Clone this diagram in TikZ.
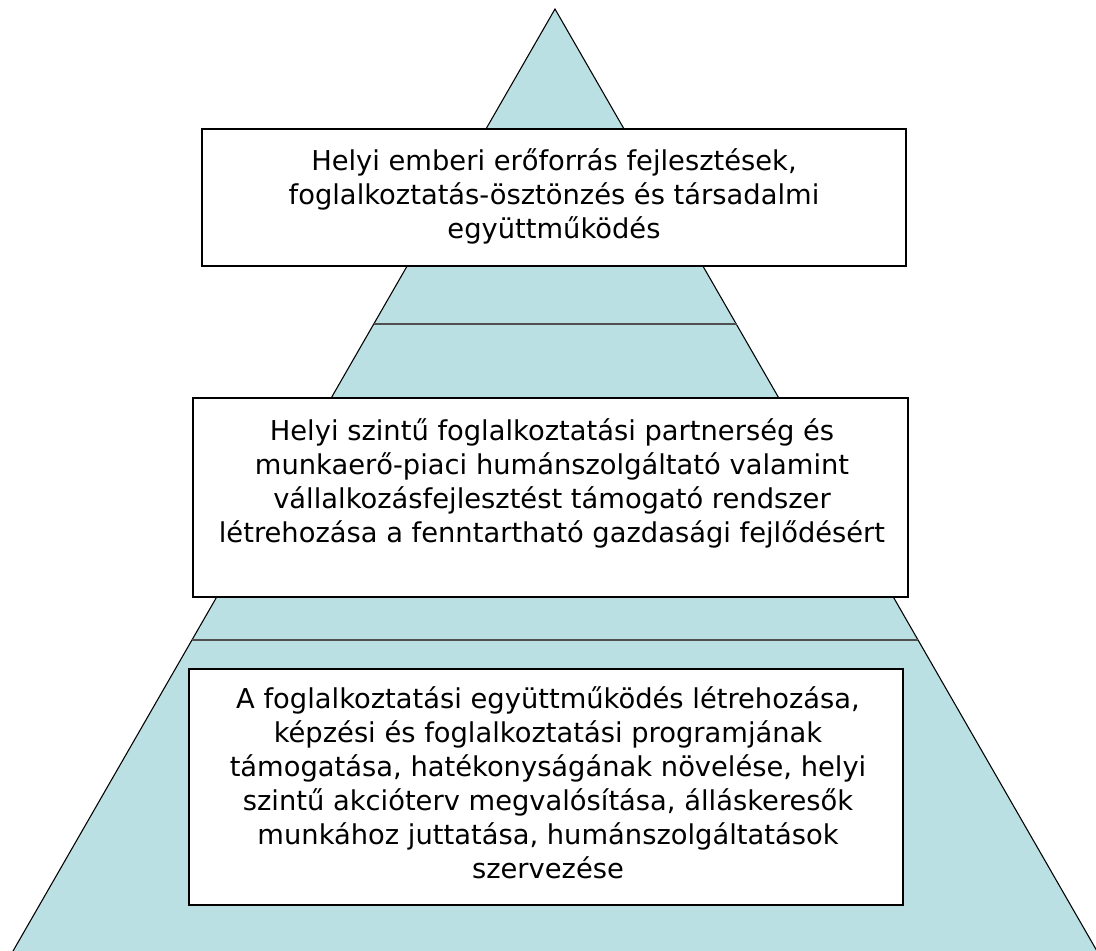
\documentclass[tikz,border=0pt]{standalone}
\usepackage{fontspec}
\setmainfont{DejaVu Sans}
\usepackage{xcolor}
\definecolor{pyrfill}{RGB}{187,224,227}
\definecolor{sepline}{RGB}{80,80,80}
\usetikzlibrary{positioning}

\tikzset{
    levelbox/.style = {draw = black, fill = white, line width = 1.5pt, inner sep = 0pt},
    leveltext/.style = {align = center, inner sep = 0pt,
        font = \fontsize{20.5}{25.5}\selectfont},
}

\begin{document}
\begin{tikzpicture}[x = 0.75pt, y = -0.75pt]
        \useasboundingbox (0, 0) rectangle (1096, 950);

        % the pyramid
        \coordinate (apex) at (555, 9);
        \coordinate (baseL) at (9, 958);
        \coordinate (baseR) at (1101, 958);
        \fill[pyrfill] (apex) -- (baseL) -- (baseR) -- cycle;
        \draw[line width = 0.8pt] (baseL) -- (apex) -- (baseR);

        % layer separators
        \coordinate (sepA1) at (374, 324);
        \coordinate (sepA2) at (737, 324);
        \coordinate (sepB1) at (192, 640);
        \coordinate (sepB2) at (918, 640);
        \draw[sepline, line width = 1.5pt] (sepA1) -- (sepA2);
        \draw[sepline, line width = 1.5pt] (sepB1) -- (sepB2);

        % boxes
        \node[levelbox, minimum width = 704*0.75pt, minimum height = 137*0.75pt]
            (top) at (554, 197.5) {};
        \node[levelbox, minimum width = 715*0.75pt, minimum height = 199*0.75pt]
            (mid) at (550.5, 497.5) {};
        \node[levelbox, minimum width = 714*0.75pt, minimum height = 236*0.75pt]
            (low) at (546, 787) {};

        \node[leveltext] (toptext) at (554, 196)
            {Helyi emberi erőforrás fejlesztések,\\
             foglalkoztatás-ösztönzés és társadalmi\\
             együttműködés};
        \node[leveltext] (midtext) at (552, 483)
            {Helyi szintű foglalkoztatási partnerség és\\
             munkaerő-piaci humánszolgáltató valamint\\
             vállalkozásfejlesztést támogató rendszer\\
             létrehozása a fenntartható gazdasági fejlődésért};
        \node[leveltext] (lowtext) at (548, 783)
            {A foglalkoztatási együttműködés létrehozása,\\
             képzési és foglalkoztatási programjának\\
             támogatása, hatékonyságának növelése, helyi\\
             szintű akcióterv megvalósítása, álláskeresők\\
             munkához juttatása, humánszolgáltatások\\
             szervezése};
    \end{tikzpicture}
\end{document}
